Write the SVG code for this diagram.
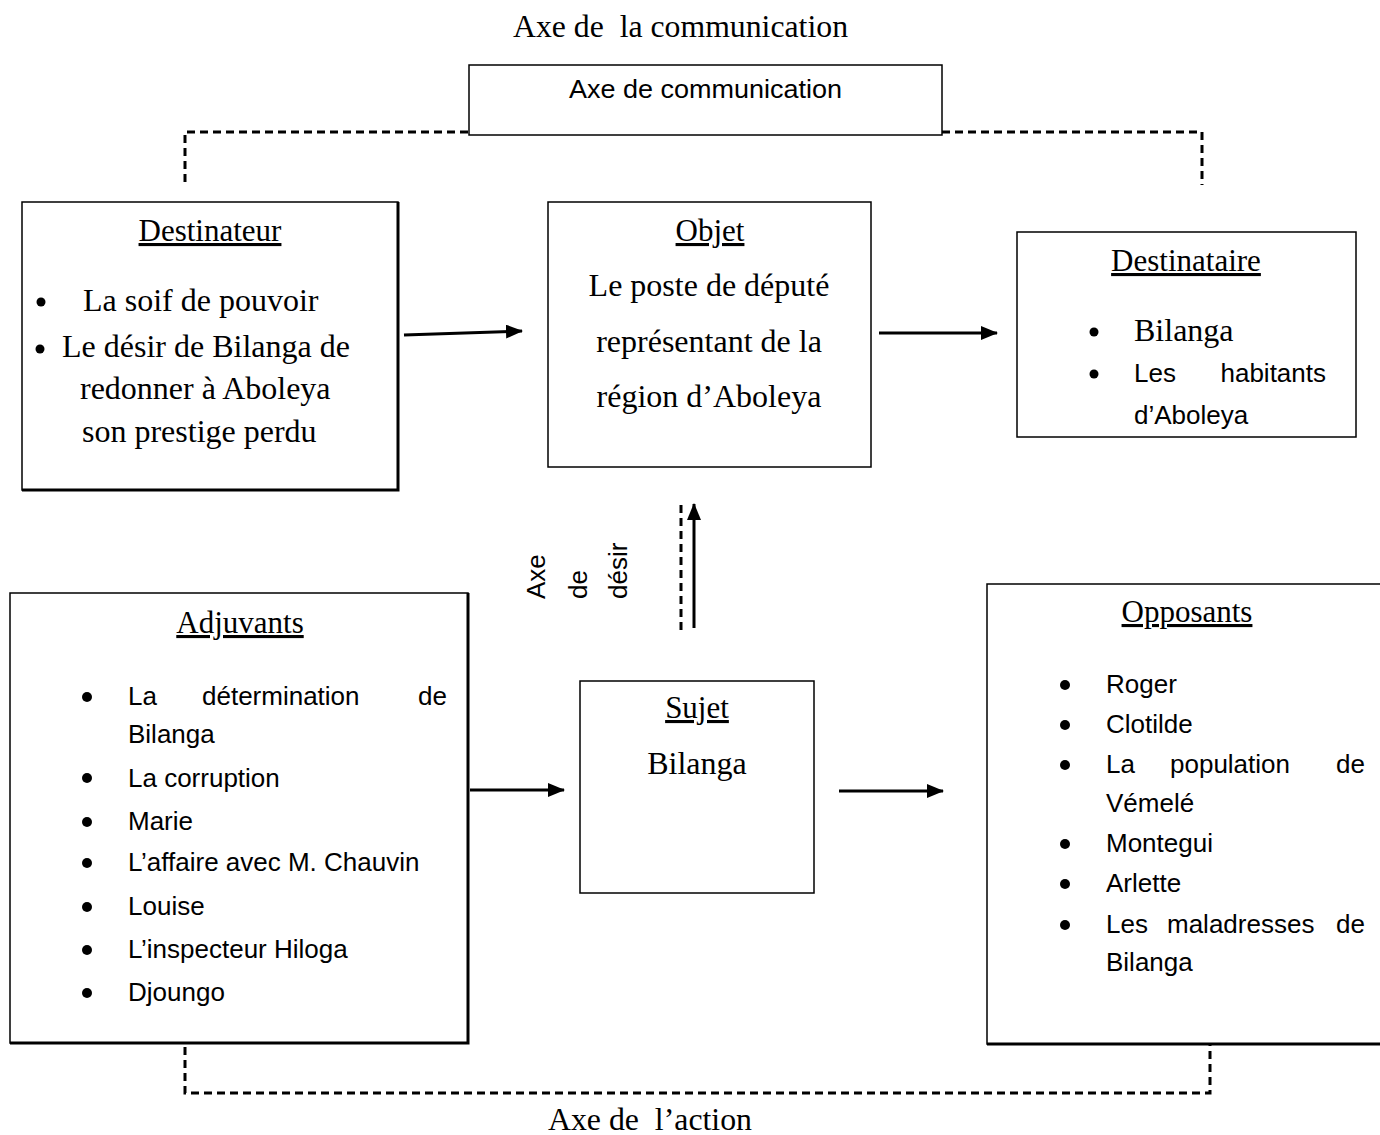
<svg xmlns="http://www.w3.org/2000/svg" width="1380" height="1135" viewBox="0 0 1380 1135">
<defs>
<marker id="ah2" viewBox="0 0 17 14" markerWidth="17" markerHeight="14" refX="16" refY="7" orient="auto" markerUnits="userSpaceOnUse"><path d="M0,0 L17,7 L0,14 Z" fill="#000"/></marker>
</defs>
<style>
.box{fill:#fff;stroke:#000;stroke-width:1.5}
.shadow{fill:none;stroke:#000;stroke-width:3}
.serif{font-family:"Liberation Serif","Times New Roman",serif;font-size:32px;fill:#000;white-space:pre}
.sans{font-family:"Liberation Sans",Arial,sans-serif;font-size:26px;fill:#000}
.title{font-family:"Liberation Serif","Times New Roman",serif;font-size:31px;fill:#000;text-decoration:underline}
.dash{fill:none;stroke:#000;stroke-width:3;stroke-dasharray:8,5}
.conn{fill:none;stroke:#000;stroke-width:3}
</style>
<rect width="1380" height="1135" fill="#fff"/>

<text class="serif" x="513" y="37" textLength="335" lengthAdjust="spacingAndGlyphs" xml:space="preserve">Axe de  la communication</text>

<g id="connectors">
<path class="dash" d="M185,182 V132 H469"/>
<path class="dash" d="M942,132 H1202 V185"/>
<path class="dash" d="M185,1047 V1093 H1210 V1044"/>
<line class="dash" x1="681" y1="630" x2="681" y2="505"/>
<line class="conn" x1="694" y1="628" x2="694" y2="504" marker-end="url(#ah2)"/>
<line class="conn" x1="404" y1="335" x2="522" y2="331" marker-end="url(#ah2)"/>
<line class="conn" x1="879" y1="333" x2="997" y2="333" marker-end="url(#ah2)"/>
<line class="conn" x1="470" y1="790" x2="564" y2="790" marker-end="url(#ah2)"/>
<line class="conn" x1="839" y1="791" x2="943" y2="791" marker-end="url(#ah2)"/>
</g>

<g id="axe-communication">
<rect class="box" x="469" y="65" width="473" height="70"/>
<text class="sans" x="569" y="98" font-size="24" textLength="273" lengthAdjust="spacingAndGlyphs">Axe de communication</text>
</g>

<g id="destinateur">
<rect class="box" x="22" y="202" width="376" height="288"/>
<path class="shadow" d="M22,490 H398 V202"/>
<text class="title" x="210" y="241" text-anchor="middle">Destinateur</text>
<circle cx="41" cy="302" r="4.5"/>
<text class="serif" x="83" y="311">La soif de pouvoir</text>
<circle cx="40" cy="349" r="4.5"/>
<text class="serif" x="62" y="357">Le désir de Bilanga de</text>
<text class="serif" x="80" y="399">redonner à Aboleya</text>
<text class="serif" x="82" y="442">son prestige perdu</text>
</g>

<g id="objet">
<rect class="box" x="548" y="202" width="323" height="265"/>
<text class="title" x="710" y="241" text-anchor="middle">Objet</text>
<text class="serif" x="709" y="296" text-anchor="middle">Le poste de député</text>
<text class="serif" x="709" y="352" text-anchor="middle">représentant de la</text>
<text class="serif" x="709" y="407" text-anchor="middle">région d’Aboleya</text>
</g>

<g id="destinataire">
<rect class="box" x="1017" y="232" width="339" height="205"/>
<text class="title" x="1186" y="271" text-anchor="middle">Destinataire</text>
<circle cx="1094" cy="332" r="4.5"/>
<text class="serif" x="1134" y="341">Bilanga</text>
<circle cx="1094" cy="374" r="4.5"/>
<text class="sans" x="1134" y="382">Les</text>
<text class="sans" x="1326" y="382" text-anchor="end">habitants</text>
<text class="sans" x="1134" y="424">d’Aboleya</text>
</g>

<g id="axe-desir">
<text class="sans" transform="translate(545,599) rotate(-90)">Axe</text>
<text class="sans" transform="translate(587,599) rotate(-90)">de</text>
<text class="sans" transform="translate(627,599) rotate(-90)">désir</text>
</g>

<g id="adjuvants">
<rect class="box" x="10" y="593" width="458" height="450"/>
<path class="shadow" d="M10,1043 H468 V593"/>
<text class="title" x="240" y="633" text-anchor="middle">Adjuvants</text>
<circle cx="87" cy="697" r="5"/>
<text class="sans" x="128" y="705">La</text>
<text class="sans" x="202" y="705">détermination</text>
<text class="sans" x="447" y="705" text-anchor="end">de</text>
<text class="sans" x="128" y="743">Bilanga</text>
<circle cx="87" cy="778" r="5"/>
<text class="sans" x="128" y="787">La corruption</text>
<circle cx="87" cy="822" r="5"/>
<text class="sans" x="128" y="830">Marie</text>
<circle cx="87" cy="863" r="5"/>
<text class="sans" x="128" y="871">L’affaire avec M. Chauvin</text>
<circle cx="87" cy="907" r="5"/>
<text class="sans" x="128" y="915">Louise</text>
<circle cx="87" cy="950" r="5"/>
<text class="sans" x="128" y="958">L’inspecteur Hiloga</text>
<circle cx="87" cy="993" r="5"/>
<text class="sans" x="128" y="1001">Djoungo</text>
</g>

<g id="sujet">
<rect class="box" x="580" y="681" width="234" height="212"/>
<text class="title" x="697" y="718" text-anchor="middle">Sujet</text>
<text class="serif" x="697" y="774" text-anchor="middle">Bilanga</text>
</g>

<g id="opposants">
<rect class="box" x="987" y="584" width="400" height="460"/>
<path class="shadow" d="M987,1044 H1380"/>
<text class="title" x="1187" y="622" text-anchor="middle">Opposants</text>
<circle cx="1065" cy="685" r="5"/>
<text class="sans" x="1106" y="693">Roger</text>
<circle cx="1065" cy="725" r="5"/>
<text class="sans" x="1106" y="733">Clotilde</text>
<circle cx="1065" cy="765" r="5"/>
<text class="sans" x="1106" y="773">La</text>
<text class="sans" x="1170" y="773">population</text>
<text class="sans" x="1365" y="773" text-anchor="end">de</text>
<text class="sans" x="1106" y="812">Vémelé</text>
<circle cx="1065" cy="844" r="5"/>
<text class="sans" x="1106" y="852">Montegui</text>
<circle cx="1065" cy="884" r="5"/>
<text class="sans" x="1106" y="892">Arlette</text>
<circle cx="1065" cy="925" r="5"/>
<text class="sans" x="1106" y="933">Les</text>
<text class="sans" x="1167" y="933">maladresses</text>
<text class="sans" x="1365" y="933" text-anchor="end">de</text>
<text class="sans" x="1106" y="971">Bilanga</text>
</g>

<text class="serif" x="548" y="1130" textLength="204" lengthAdjust="spacingAndGlyphs" xml:space="preserve">Axe de  l’action</text>
</svg>
